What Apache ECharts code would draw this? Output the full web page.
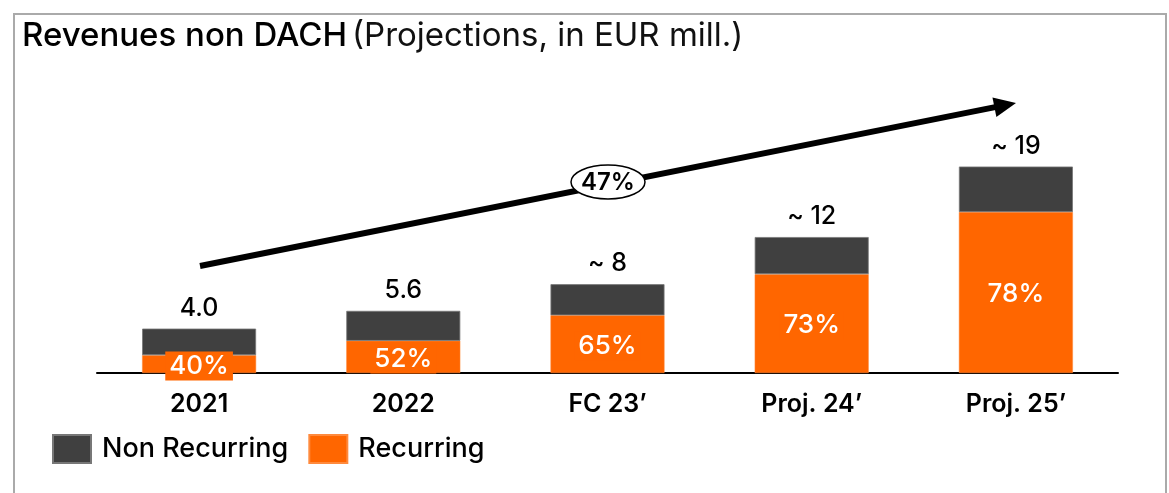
<!DOCTYPE html>
<html>
<head>
<meta charset="utf-8">
<script src="https://cdn.jsdelivr.net/npm/echarts@6/dist/echarts.min.js"></script>
<style>html,body{margin:0;padding:0;background:#fff;}#c{width:1169px;height:493px;}</style>
</head>
<body>
<div id="c"></div>
<script>
const categories = ['2021', '2022', 'FC 23\u2019', 'Proj. 24\u2019', 'Proj. 25\u2019'];
const recurring = [1.6, 2.9, 5.2, 8.9, 14.5];
const nonRecurring = [2.4, 2.7, 2.8, 3.35, 4.1];
const totalLabels = ['4.0', '5.6', '~ 8', '~ 12', '~ 19'];
const recurringShare = ['40%', '52%', '65%', '73%', '78%'];
const cagrLabel = '47%';

const FONT = 'Inter, "Noto Sans", sans-serif';
const chart = echarts.init(document.getElementById('c'));

// arrow geometry (annotation)
const A0 = [200, 266], T = [1016, 103];
const dx = T[0] - A0[0], dy = T[1] - A0[1], L = Math.hypot(dx, dy);
const ux = dx / L, uy = dy / L, nx = -uy, ny = ux;
const B = [T[0] - 22 * ux, T[1] - 22 * uy];

chart.setOption({
  animation: false,
  backgroundColor: '#fff',
  title: {
    left: 22, top: 20, padding: 0,
    text: '{a|Revenues non DACH} {b|(Projections, in EUR mill.)}',
    textStyle: {
      rich: {
        a: { fontFamily: FONT, fontSize: 33, fontWeight: 500, color: '#000' },
        b: { fontFamily: FONT, fontSize: 33, fontWeight: 400, color: '#111' }
      }
    }
  },
  legend: {
    left: 52, top: 434, padding: 0,
    itemWidth: 38, itemHeight: 28, itemGap: 20,
    icon: 'rect',
    data: ['Non Recurring', 'Recurring'],
    textStyle: { fontFamily: FONT, fontSize: 27, fontWeight: 500, color: '#000', padding: [0, 0, 0, 6] }
  },
  grid: { left: 97, right: 51, top: 151, bottom: 120 },
  xAxis: {
    type: 'category', data: categories,
    axisLine: { lineStyle: { color: '#000', width: 2 } },
    axisTick: { show: false },
    axisLabel: { margin: 19, fontFamily: FONT, fontSize: 25, fontWeight: 600, color: '#000' }
  },
  yAxis: { type: 'value', min: 0, max: 20, show: false, splitLine: { show: false } },
  series: [
    {
      name: 'Recurring', type: 'bar', stack: 'rev', barWidth: 114,
      data: recurring,
      itemStyle: { color: '#FF6600', borderColor: '#ff8a3d', borderWidth: 0.5 },
      label: {
        show: true, position: 'inside',
        formatter: p => recurringShare[p.dataIndex],
        fontFamily: FONT, fontSize: 26, fontWeight: 500, color: '#fff',
        backgroundColor: '#FF6600', padding: [2, 4, 1, 4], offset: [0, 2]
      }
    },
    {
      name: 'Non Recurring', type: 'bar', stack: 'rev', barWidth: 114,
      data: nonRecurring,
      itemStyle: { color: '#404040', borderColor: '#777', borderWidth: 0.8 },
      label: {
        show: true, position: 'top', distance: 8,
        formatter: p => totalLabels[p.dataIndex],
        fontFamily: FONT, fontSize: 25, fontWeight: 500, color: '#000'
      }
    }
  ],
  color: ['#FF6600', '#404040'],
  graphic: [
    { type: 'rect', shape: { x: 14, y: 14, width: 1152, height: 520 }, style: { fill: 'none', stroke: '#aaa', lineWidth: 2 }, z: -1 },
    { type: 'line', shape: { x1: A0[0], y1: A0[1], x2: B[0] + 2 * ux, y2: B[1] + 2 * uy }, style: { stroke: '#000', lineWidth: 6 }, z: 10 },
    { type: 'polygon', shape: { points: [T, [B[0] + 10 * nx, B[1] + 10 * ny], [B[0] - 10 * nx, B[1] - 10 * ny]] }, style: { fill: '#000' }, z: 10 },
    { type: 'ellipse', shape: { cx: 608, cy: 182, rx: 37, ry: 17 }, style: { fill: '#fff', stroke: '#000', lineWidth: 1.5 }, z: 11 },
    { type: 'text', x: 608, y: 183, style: { text: cagrLabel, x: 0, y: 0, align: 'center', verticalAlign: 'middle', fontFamily: FONT, fontSize: 24, fontWeight: 600, fill: '#000' }, z: 12 }
  ]
});
</script>
</body>
</html>
